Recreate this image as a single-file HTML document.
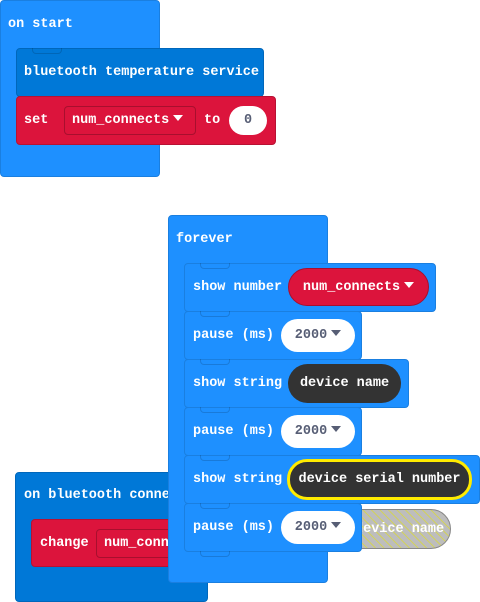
<!DOCTYPE html>
<html><head><meta charset="utf-8"><style>
body{margin:0;width:480px;height:600px;background:#fff;position:relative;overflow:hidden;font-family:"Liberation Mono",monospace;font-weight:bold;font-size:13.5px;color:#fff}
.b{position:absolute;border-radius:4px;box-sizing:border-box}
.ev{background:#1E90FF;border:1px solid #1a7fe0}
.bt{background:#0078D7;border:1px solid #0067bb}
.rd{background:#DC143C;border:1px solid #b81133}
.t{position:absolute;white-space:pre;line-height:16px}
.ov{position:absolute;border-radius:20px;box-sizing:border-box;text-align:center;white-space:pre}
.w{background:#fff;color:#575E75}
.dk{background:#333;color:#fff}
.tri{display:inline-block;width:0;height:0;border-left:5px solid transparent;border-right:5px solid transparent;border-top:6px solid currentColor;vertical-align:middle;margin-left:4px;position:relative;top:-1px}
.notch{position:absolute;width:30px;height:6px;border:1px solid rgba(0,0,0,0.15);border-top:none;border-radius:0 0 4px 4px;box-sizing:border-box}
</style></head><body>

<!-- on start -->
<div class="b ev" style="left:0;top:0;width:160px;height:177px"></div>
<div class="t" style="left:8px;top:17px">on start</div>
<div class="b bt" style="left:16px;top:48px;width:248px;height:49px"></div>
<div class="t" style="left:24px;top:65px">bluetooth temperature service</div>
<div class="b rd" style="left:16px;top:96px;width:260px;height:49px"></div>
<div class="t" style="left:24px;top:113px">set</div>
<div class="b" style="left:64px;top:106px;width:132px;height:29px;border:1px solid #a80f2e;background:#DC143C"></div>
<div class="t" style="left:72px;top:113px">num_connects<span class="tri"></span></div>
<div class="t" style="left:204px;top:113px">to</div>
<div class="ov w" style="left:229px;top:106px;width:38px;height:29px;line-height:29px">0</div>

<!-- on bluetooth connected -->
<div class="b bt" style="left:15px;top:472px;width:193px;height:130px"></div>
<div class="t" style="left:24px;top:488px">on bluetooth connected</div>
<div class="b rd" style="left:31px;top:519px;width:200px;height:48px"></div>
<div class="t" style="left:40px;top:536px">change</div>
<div class="b" style="left:96px;top:529px;width:110px;height:29px;border:1px solid #a80f2e;background:#DC143C"></div>
<div class="t" style="left:104px;top:536px">num_connects</div>

<!-- ghost oval -->
<div class="ov" style="left:340px;top:509px;width:111px;height:40px;line-height:40px;background:#bdbdbd repeating-linear-gradient(45deg,rgba(230,230,0,.5) 0 1px,transparent 1px 6px);border:1px solid #888;color:#fff;text-align:left;padding-left:14px">device name</div>

<!-- forever -->
<div class="b ev" style="left:168px;top:215px;width:160px;height:368px"></div>
<div class="t" style="left:176px;top:232px">forever</div>

<div class="b ev" style="left:184px;top:263px;width:252px;height:49px"></div>
<div class="t" style="left:193px;top:280px">show number</div>
<div class="ov" style="left:288px;top:268px;width:141px;height:38px;line-height:38px;background:#DC143C;border:1px solid #a80f2e">num_connects<span class="tri"></span></div>

<div class="b ev" style="left:184px;top:311px;width:178px;height:49px"></div>
<div class="t" style="left:193px;top:328px">pause (ms)</div>
<div class="ov w" style="left:281px;top:319px;width:74px;height:33px;line-height:33px">2000<span class="tri"></span></div>

<div class="b ev" style="left:184px;top:359px;width:225px;height:49px"></div>
<div class="t" style="left:193px;top:376px">show string</div>
<div class="ov dk" style="left:288px;top:364px;width:113px;height:39px;line-height:39px">device name</div>

<div class="b ev" style="left:184px;top:407px;width:178px;height:49px"></div>
<div class="t" style="left:193px;top:424px">pause (ms)</div>
<div class="ov w" style="left:281px;top:415px;width:74px;height:33px;line-height:33px">2000<span class="tri"></span></div>

<div class="b ev" style="left:184px;top:455px;width:296px;height:49px"></div>
<div class="t" style="left:193px;top:472px">show string</div>
<div class="ov dk" style="left:287px;top:459px;width:185px;height:41px;line-height:35px;border:3px solid #ffeb00">device serial number</div>

<div class="b ev" style="left:184px;top:503px;width:178px;height:49px"></div>
<div class="t" style="left:193px;top:520px">pause (ms)</div>
<div class="ov w" style="left:281px;top:511px;width:74px;height:33px;line-height:33px">2000<span class="tri"></span></div>

<div class="notch" style="left:200px;top:263px"></div>
<div class="notch" style="left:200px;top:311px"></div>
<div class="notch" style="left:200px;top:359px"></div>
<div class="notch" style="left:200px;top:407px"></div>
<div class="notch" style="left:200px;top:455px"></div>
<div class="notch" style="left:200px;top:503px"></div>
<div class="notch" style="left:200px;top:551px"></div>
<div class="notch" style="left:32px;top:48px"></div>
</body></html>
